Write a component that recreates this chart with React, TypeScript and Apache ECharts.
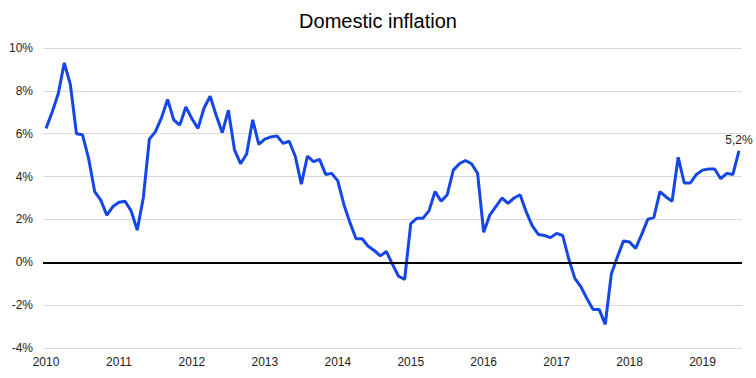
import React, { useEffect, useRef } from "react";
import * as echarts from "echarts";

const years = [2010, 2011, 2012, 2013, 2014, 2015, 2016, 2017, 2018, 2019];
const monthsInLastYear = 7;

const inflation = [
  6.25, 7.0, 7.85, 9.3, 8.3, 6.0, 5.95, 4.85, 3.3, 2.9, 2.2, 2.6,
  2.8, 2.85, 2.4, 1.5, 3.0, 5.75, 6.1, 6.75, 7.6, 6.65, 6.4, 7.25,
  6.7, 6.25, 7.2, 7.75, 6.85, 6.05, 7.1, 5.25, 4.6, 5.05, 6.65, 5.5,
  5.75, 5.85, 5.9, 5.55, 5.65, 4.95, 3.65, 4.95, 4.7, 4.8, 4.1, 4.15,
  3.8, 2.7, 1.85, 1.1, 1.1, 0.75, 0.55, 0.3, 0.5, -0.1, -0.65, -0.8,
  1.8, 2.05, 2.05, 2.4, 3.3, 2.85, 3.15, 4.3, 4.6, 4.75, 4.6, 4.15,
  1.4, 2.2, 2.6, 3.0, 2.75, 3.0, 3.15, 2.35, 1.7, 1.3, 1.25, 1.15,
  1.35, 1.25, 0.15, -0.75, -1.15, -1.7, -2.2, -2.2, -2.9, -0.55, 0.25, 1.0,
  0.95, 0.65, 1.3, 2.0, 2.1, 3.3, 3.05, 2.85, 4.9, 3.7, 3.7, 4.1,
  4.3, 4.35, 4.35, 3.9, 4.15, 4.1, 5.2,
];

const yTicks = { min: -4, max: 10, interval: 2 };
const title = "Domestic inflation";

const categories: string[] = [];
years.forEach((y, yi) => {
  const n = yi === years.length - 1 ? monthsInLastYear : 12;
  for (let m = 1; m <= n; m++) categories.push(`${y}-${String(m).padStart(2, "0")}`);
});

const FONT = "'Liberation Sans', Arial, sans-serif";

export default function App() {
  const ref = useRef<HTMLDivElement>(null);
  useEffect(() => {
    if (!ref.current) return;
    const chart = echarts.init(ref.current, undefined, { renderer: "svg" });
    const lastIdx = inflation.length - 1;
    chart.setOption({
      animation: false,
      textStyle: { fontFamily: FONT },
      title: {
        text: title,
        left: "center",
        top: 6,
        textStyle: { fontFamily: FONT, fontSize: 20, fontWeight: "normal", color: "#000" },
      },
      grid: { left: 43, right: 14, top: 48, bottom: 30 },
      xAxis: {
        type: "category",
        data: categories,
        boundaryGap: true,
        axisLine: { show: false },
        axisTick: { show: false },
        splitLine: { show: false },
        axisLabel: {
          interval: (idx: number) => idx % 12 === 0,
          formatter: (v: string) => v.slice(0, 4),
          color: "#222",
          fontSize: 12,
          fontFamily: FONT,
          margin: 8,
        },
      },
      yAxis: {
        type: "value",
        min: yTicks.min,
        max: yTicks.max,
        interval: yTicks.interval,
        axisLine: { show: false },
        axisTick: { show: false },
        splitLine: { show: true, lineStyle: { color: "#d9d9d9", width: 1 } },
        axisLabel: {
          formatter: (v: number) => `${v}%`,
          color: "#222",
          fontSize: 12,
          fontFamily: FONT,
          margin: 10,
        },
      },
      series: [
        {
          type: "line",
          data: [],
          z: 1,
          silent: true,
          markLine: {
            silent: true,
            symbol: ["none", "none"],
            label: { show: false },
            lineStyle: { color: "#000", width: 2, type: "solid" },
            data: [{ yAxis: 0 }],
          },
        },
        {
          type: "line",
          z: 3,
          data: inflation.map((v, i) =>
            i === lastIdx
              ? {
                  value: v,
                  label: {
                    show: true,
                    position: "top",
                    distance: 5,
                    formatter: () => `${String(v).replace(".", ",")}%`,
                    color: "#222",
                    fontSize: 12,
                    fontFamily: FONT,
                  },
                }
              : v
          ),
          showSymbol: true,
          symbol: "circle",
          symbolSize: 0,
          lineStyle: { color: "#1446e8", width: 3 },
          itemStyle: { color: "#1446e8" },
        },
      ],
    });
    return () => chart.dispose();
  }, []);
  return (
    <div
      ref={ref}
      style={{ position: "fixed", left: 0, top: 0, width: 756, height: 378, background: "#fff" }}
    />
  );
}
